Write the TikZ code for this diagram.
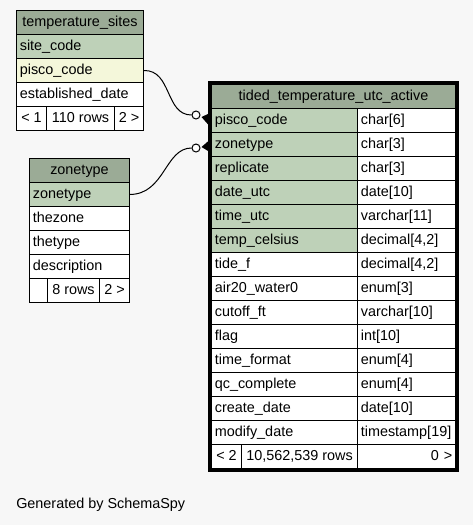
\documentclass[tikz,border=0pt]{standalone}
\usepackage{fontspec}
\setmainfont{Liberation Sans}
\usetikzlibrary{calc}

\definecolor{bgcol}{HTML}{F7F7F7}
\definecolor{headcol}{HTML}{9BAB96}
\definecolor{keycol}{HTML}{BED1B8}
\definecolor{fkcol}{HTML}{F4F7DA}

\tikzset{
  cell/.style={draw, line width=0.75pt, anchor=north west, minimum height=18pt,
    inner xsep=2.5pt, inner ysep=0pt, text height=7.8pt, text depth=2.3pt,
    align=left, text width=#1},
  head/.style={cell=#1, align=center, fill=headcol},
  foot/.style={draw, line width=0.75pt, anchor=north west, minimum height=18pt,
    minimum width=#1, inner xsep=1pt, inner ysep=0pt, text height=7.8pt,
    text depth=2.3pt, fill=white},
  ring/.style={draw, circle, fill=white, inner sep=0pt, minimum size=6pt, line width=0.75pt},
  crow/.style={fill=black},
  link/.style={line width=0.75pt},
}

\begin{document}
\begin{tikzpicture}[x=0.75pt,y=-0.75pt,font=\fontsize{10.8}{13}\selectfont]
  \useasboundingbox (0,0) rectangle (473,525);
  \fill[bgcol] (0,0) rectangle (473,525);

  % temperature_sites
  \node[head=90.25pt] (ts) at (16,10) {temperature\_sites};
  \node[cell=90.25pt, fill=keycol] (ts-site) at (16,34) {site\_code};
  \node[cell=90.25pt, fill=fkcol] (ts-pisco) at (16,58) {pisco\_code};
  \node[cell=90.25pt, fill=white] (ts-est) at (16,82) {established\_date};
  \node[foot=22.5pt] (ts-prev) at (16,106) {< 1};
  \node[foot=51pt] (ts-rows) at (46,106) {110 rows};
  \node[foot=21.75pt] (ts-next) at (114,106) {2 >};

  % zonetype
  \node[head=70pt] (zt) at (29,158) {zonetype};
  \node[cell=70pt, fill=keycol] (zt-zone) at (29,182) {zonetype};
  \node[cell=70pt, fill=white] (zt-thezone) at (29,206) {thezone};
  \node[cell=70pt, fill=white] (zt-thetype) at (29,230) {thetype};
  \node[cell=70pt, fill=white] (zt-desc) at (29,254) {description};
  \node[foot=13.5pt] (zt-prev) at (29,278) {};
  \node[foot=39pt] (zt-rows) at (47,278) {8 rows};
  \node[foot=22.5pt] (zt-next) at (99,278) {2 >};

  % tided_temperature_utc_active
  \draw[line width=2.25pt] (209,82) rectangle (457,470);
  \node[head=178pt] (tt) at (211,84) {tided\_temperature\_utc\_active};
  \foreach \key/\col/\typ/\fil [count=\i from 0] in {
      pisco/pisco\_code/char[6]/keycol,
      zone/zonetype/char[3]/keycol,
      rep/replicate/char[3]/keycol,
      date/date\_utc/date[10]/keycol,
      time/time\_utc/varchar[11]/keycol,
      temp/temp\_celsius/{decimal[4,2]}/keycol,
      tide/tide\_f/{decimal[4,2]}/white,
      air/air20\_water0/enum[3]/white,
      cutoff/cutoff\_ft/varchar[10]/white,
      flag/flag/int[10]/white,
      tfmt/time\_format/enum[4]/white,
      qc/qc\_complete/enum[4]/white,
      create/create\_date/date[10]/white,
      modify/modify\_date/timestamp[19]/white} {
    \node[cell=104.5pt, fill=\fil] (tt-\key) at (211,{108+24*\i}) {\col};
    \node[cell=68.5pt, fill=white] (tt-\key-type) at (357,{108+24*\i}) {\typ};
  }
  \node[foot=22.5pt] (tt-prev) at (211,444) {< 2};
  \node[foot=87pt] (tt-rows) at (241,444) {10,562,539 rows};
  \node[cell=68.5pt, fill=white, align=right] (tt-next) at (357,444) {0 >};

  % links
  \node[ring] (r1) at (196,115) {};
  \node[ring] (r2) at (196,148) {};
  \draw[link] (ts-pisco.east) .. controls (172,70) and (165,115) .. (r1.west);
  \draw[link] (zt-zone.east) .. controls (165,194) and (165,148) .. (r2.west);
  \fill[crow] ($(r1.east)+(1,2)$) -- ($(tt-pisco.west)+(-2,-7)$) -- ($(tt-pisco.west)+(-2,5)$) -- cycle;
  \fill[crow] ($(r2.east)+(1,-1)$) -- ($(tt-zone.west)+(-2,-4)$) -- ($(tt-zone.west)+(-2,7)$) -- cycle;

  \node[anchor=west, inner sep=0pt] (gen) at (16,505) {Generated by SchemaSpy};
\end{tikzpicture}
\end{document}
